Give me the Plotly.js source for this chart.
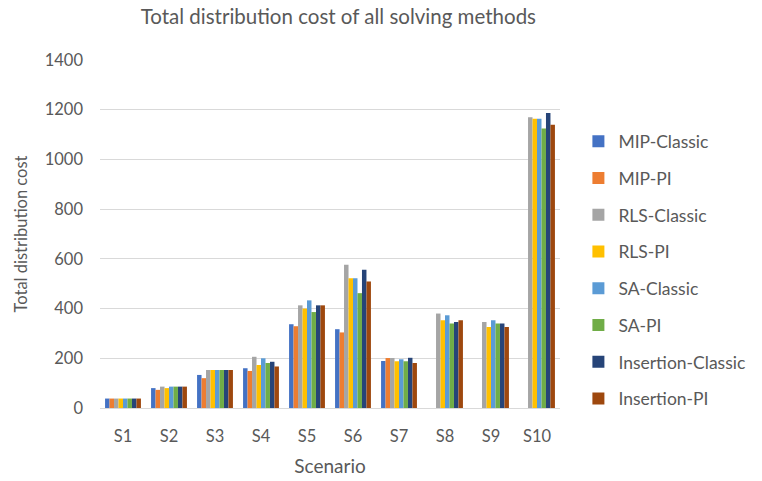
<!DOCTYPE html>
<html><head><meta charset="utf-8">
<script src="https://cdn.plot.ly/plotly-3.0.1.min.js"></script>
<style>body{margin:0;background:#fff}#chart{width:762px;height:481px}</style>
</head><body><div id="chart"></div>
<script>
const categories = ["S1","S2","S3","S4","S5","S6","S7","S8","S9","S10"];
const seriesNames = ["MIP-Classic","MIP-PI","RLS-Classic","RLS-PI","SA-Classic","SA-PI","Insertion-Classic","Insertion-PI"];
const mipClassic = [38, 80, 133, 160, 337, 317, 189, null, null, null];
const mipPI = [38, 73, 120, 149, 329, 304, 201, null, null, null];
const rlsClassic = [38, 86, 153, 206, 413, 576, 201, 380, 346, 1170];
const rlsPI = [38, 80, 153, 173, 400, 522, 188, 353, 326, 1164];
const saClassic = [38, 86, 153, 200, 433, 522, 196, 373, 353, 1164];
const saPI = [38, 86, 153, 181, 386, 462, 188, 340, 340, 1124];
const insClassic = [38, 86, 153, 186, 413, 556, 202, 346, 340, 1187];
const insPI = [38, 86, 153, 167, 413, 509, 181, 353, 326, 1140];
const colors = ["#4472C4","#ED7D31","#A5A5A5","#FFC000","#5B9BD5","#70AD47","#264478","#9E480E"];
const allSeries = [mipClassic, mipPI, rlsClassic, rlsPI, saClassic, saPI, insClassic, insPI];

const font = "Lato, 'Open Sans', sans-serif";
const data = allSeries.map((vals, i) => ({
  type: "bar", name: seriesNames[i], x: categories, y: vals,
  marker: {color: colors[i]}, legendgroup: "g" + i
}));
const layout = {
  width: 762, height: 481,
  margin: {l: 100, r: 185, t: 60, b: 73},
  paper_bgcolor: "#fff", plot_bgcolor: "#fff",
  font: {family: font, color: "#595959", size: 14},
  title: {text: "Total distribution cost of all solving methods", x: 0.444, xanchor: "center", y: 0.965, yanchor: "middle", font: {size: 20.5, color: "#595959", family: font}},
  barmode: "group", bargap: 0.22, bargroupgap: 0,
  xaxis: {
    title: {text: "Scenario", font: {size: 19, color: "#595959"}, standoff: 14},
    showline: true, linecolor: "#d9d9d9", linewidth: 1,
    ticks: "", ticklabelstandoff: 13, tickfont: {size: 16.5, color: "#595959"}
  },
  yaxis: {
    title: {text: "Total distribution cost", font: {size: 16.5, color: "#595959"}, standoff: 12},
    range: [0, 1400], dtick: 200, showgrid: true, gridcolor: "#d9d9d9", gridwidth: 1,
    zeroline: false, showline: false, ticks: "", ticklabelstandoff: 16,
    tickfont: {size: 16.5, color: "#595959"}
  },
  legend: {x: 1.04, xanchor: "left", y: 0.397, yanchor: "middle", tracegroupgap: 11,
    font: {size: 17.5, color: "#595959"}, itemwidth: 30}
};
Plotly.newPlot("chart", data, layout, {displayModeBar: false, staticPlot: true});
</script></body></html>
